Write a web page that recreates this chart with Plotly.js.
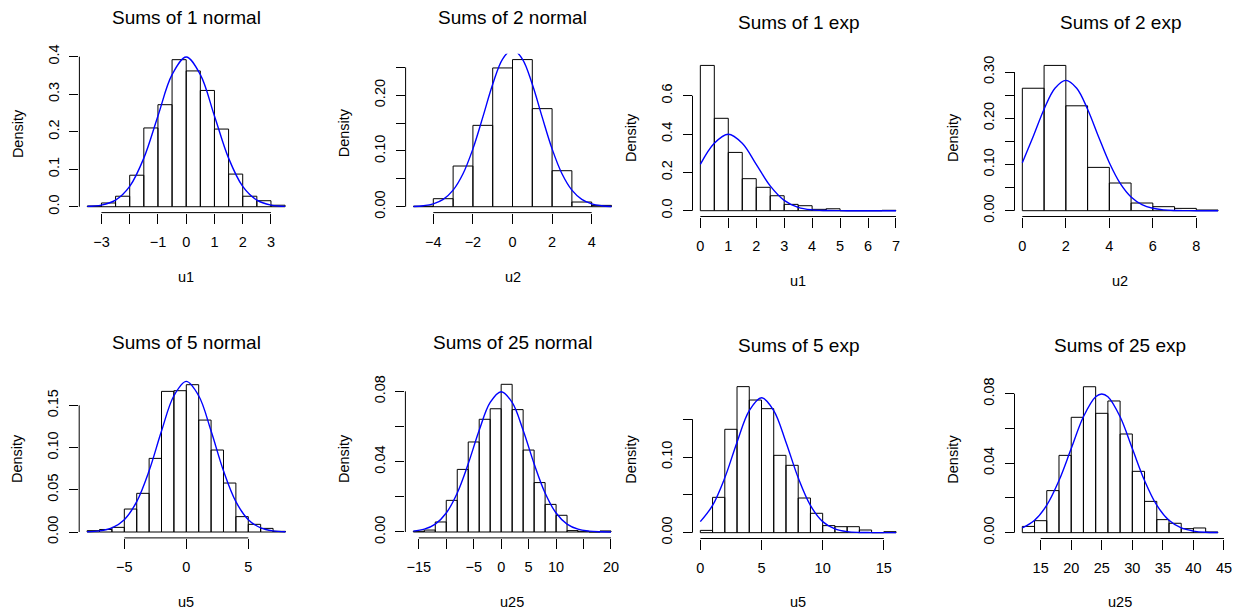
<!DOCTYPE html>
<html><head><meta charset="utf-8">
<script src="https://cdn.plot.ly/plotly-3.0.1.min.js"></script>
<style>html,body{margin:0;padding:0;background:#fff}#chart{width:1238px;height:612px}</style>
</head><body><div id="chart"></div>
<script>
// ---------- DATA ----------
const titles = ["Sums of 1 normal","Sums of 2 normal","Sums of 1 exp","Sums of 2 exp",
                "Sums of 5 normal","Sums of 25 normal","Sums of 5 exp","Sums of 25 exp"];
const xLabels = ["u1","u2","u1","u2","u5","u25","u5","u25"];
const yLabel = "Density";

// Sums of 1 normal
const n1_edges   = [-3.5,-3,-2.5,-2,-1.5,-1,-0.5,0,0.5,1,1.5,2,2.5,3,3.5];
const n1_density = [0.002,0.010,0.028,0.084,0.210,0.272,0.392,0.362,0.310,0.207,0.087,0.028,0.016,0.004];
const n1_curveX  = [-3.5,-3,-2.5,-2,-1.5,-1,-0.5,0,0.5,1,1.5,2,2.5,3,3.5];
const n1_curveY  = [0.0009,0.0044,0.0175,0.054,0.1295,0.242,0.352,0.399,0.352,0.242,0.1295,0.054,0.0175,0.0044,0.0009];
const n1_xticks  = [-3,-2,-1,0,1,2,3];
const n1_xtext   = ["\u22123","","\u22121","0","1","2","3"];
const n1_yticks  = [0,0.1,0.2,0.3,0.4];
const n1_ytext   = ["0.0","0.1","0.2","0.3","0.4"];

// Sums of 2 normal
const n2_edges   = [-5,-4,-3,-2,-1,0,1,2,3,4,5];
const n2_density = [0.001,0.0144,0.073,0.146,0.249,0.264,0.176,0.0646,0.0084,0.0024];
const n2_curveX  = [-5,-4.5,-4,-3.5,-3,-2.5,-2,-1.5,-1,-0.5,0,0.5,1,1.5,2,2.5,3,3.5,4,4.5,5];
const n2_curveY  = [0.0005,0.0018,0.0052,0.0132,0.0297,0.0591,0.1038,0.1607,0.2197,0.265,0.2821,0.265,0.2197,0.1607,0.1038,0.0591,0.0297,0.0132,0.0052,0.0018,0.0005];
const n2_xticks  = [-4,-2,0,2,4];
const n2_xtext   = ["\u22124","\u22122","0","2","4"];
const n2_yticks  = [0,0.05,0.10,0.15,0.20,0.25];
const n2_ytext   = ["0.00","","0.10","","0.20",""];

// Sums of 1 exp
const e1_edges   = [0,0.5,1,1.5,2,2.5,3,3.5,4,4.5,5,5.5,6,6.5,7];
const e1_density = [0.758,0.482,0.304,0.167,0.122,0.078,0.033,0.026,0.007,0.010,0,0,0,0.002];
const e1_curveX  = [0,0.5,1,1.5,2,2.5,3,3.5,4,4.5,5,5.5,6,6.5,7];
const e1_curveY  = [0.242,0.352,0.399,0.352,0.242,0.1295,0.054,0.0175,0.0044,0.0009,0.0001,0,0,0,0];
const e1_xticks  = [0,1,2,3,4,5,6,7];
const e1_xtext   = ["0","1","2","3","4","5","6","7"];
const e1_yticks  = [0,0.2,0.4,0.6];
const e1_ytext   = ["0.0","0.2","0.4","0.6"];

// Sums of 2 exp
const e2_edges   = [0,1,2,3,4,5,6,7,8,9];
const e2_density = [0.265,0.3144,0.227,0.0937,0.0599,0.0166,0.0087,0.005,0.0015];
const e2_curveX  = [0,0.5,1,1.5,2,2.5,3,3.5,4,4.5,5,5.5,6,6.5,7,7.5,8,9];
const e2_curveY  = [0.1038,0.1607,0.2197,0.265,0.2821,0.265,0.2197,0.1607,0.1038,0.0591,0.0297,0.0132,0.0052,0.0018,0.0005,0.0001,0,0];
const e2_xticks  = [0,2,4,6,8];
const e2_xtext   = ["0","2","4","6","8"];
const e2_yticks  = [0,0.05,0.10,0.15,0.20,0.25,0.30];
const e2_ytext   = ["0.00","","0.10","","0.20","","0.30"];

// Sums of 5 normal
const n5_edges   = [-8,-7,-6,-5,-4,-3,-2,-1,0,1,2,3,4,5,6,7,8];
const n5_density = [0.0016,0.003,0.0055,0.0272,0.0458,0.0872,0.1666,0.1674,0.1745,0.1326,0.0971,0.058,0.0182,0.0091,0.0043,0.0008];
const n5_curveX  = [-8,-7,-6,-5,-4,-3,-2,-1,0,1,2,3,4,5,6,7,8];
const n5_curveY  = [0.0003,0.0013,0.0049,0.0146,0.036,0.0725,0.1196,0.1614,0.1784,0.1614,0.1196,0.0725,0.036,0.0146,0.0049,0.0013,0.0003];
const n5_xticks  = [-5,0,5];
const n5_xtext   = ["\u22125","0","5"];
const n5_yticks  = [0,0.05,0.10,0.15];
const n5_ytext   = ["0.00","0.05","0.10","0.15"];

// Sums of 25 normal
const n25_edges   = [-16,-14,-12,-10,-8,-6,-4,-2,0,2,4,6,8,10,12,14,16,18,20];
const n25_density = [0.0004,0.0011,0.0057,0.018,0.0356,0.0512,0.0641,0.0701,0.084,0.0696,0.0466,0.0281,0.0157,0.0095,0.0008,0.0004,0,0.0006];
const n25_curveX  = [-16,-14,-12,-10,-8,-6,-4,-2,0,2,4,6,8,10,12,14,16,18,20];
const n25_curveY  = [0.0005,0.0016,0.0045,0.0108,0.0222,0.0388,0.0579,0.0737,0.0798,0.0737,0.0579,0.0388,0.0222,0.0108,0.0045,0.0016,0.0005,0.0001,0];
const n25_xticks  = [-15,-10,-5,0,5,10,15,20];
const n25_xtext   = ["\u221215","","\u22125","0","5","10","","20"];
const n25_yticks  = [0,0.02,0.04,0.06,0.08];
const n25_ytext   = ["0.00","","0.04","","0.08"];

// Sums of 5 exp
const e5_edges   = [0,1,2,3,4,5,6,7,8,9,10,11,12,13,14,15,16];
const e5_density = [0.003,0.0467,0.1366,0.193,0.1753,0.1639,0.1022,0.089,0.0458,0.0256,0.0093,0.0079,0.0079,0.0035,0,0.0013];
const e5_curveX  = [0,1,2,3,4,5,6,7,8,9,10,11,12,13,14,15,16];
const e5_curveY  = [0.0146,0.036,0.0725,0.1196,0.1614,0.1784,0.1614,0.1196,0.0725,0.036,0.0146,0.0049,0.0013,0.0003,0.0001,0,0];
const e5_xticks  = [0,5,10,15];
const e5_xtext   = ["0","5","10","15"];
const e5_yticks  = [0,0.05,0.10,0.15];
const e5_ytext   = ["0.00","","0.10",""];

// Sums of 25 exp
const e25_edges   = [12,14,16,18,20,22,24,26,28,30,32,34,36,38,40,42,44];
const e25_density = [0.0036,0.0069,0.0242,0.0445,0.0664,0.084,0.0687,0.0758,0.0568,0.0353,0.018,0.0075,0.0054,0.0023,0.0027,0.0004];
const e25_curveX  = [12,14,16,18,20,22,24,25,26,28,30,32,34,36,38,40,42,44];
const e25_curveY  = [0.0027,0.0071,0.0158,0.03,0.0484,0.0667,0.0782,0.0798,0.0782,0.0667,0.0484,0.03,0.0158,0.0071,0.0027,0.0009,0.0002,0.0001];
const e25_xticks  = [15,20,25,30,35,40,45];
const e25_xtext   = ["15","20","25","30","35","40","45"];
const e25_yticks  = [0,0.02,0.04,0.06,0.08];
const e25_ytext   = ["0.00","","0.04","","0.08"];

const panels = [
  {edges:n1_edges, dens:n1_density, cx:n1_curveX, cy:n1_curveY, xt:n1_xticks, xl:n1_xtext, yt:n1_yticks, yl:n1_ytext},
  {edges:n2_edges, dens:n2_density, cx:n2_curveX, cy:n2_curveY, xt:n2_xticks, xl:n2_xtext, yt:n2_yticks, yl:n2_ytext},
  {edges:e1_edges, dens:e1_density, cx:e1_curveX, cy:e1_curveY, xt:e1_xticks, xl:e1_xtext, yt:e1_yticks, yl:e1_ytext},
  {edges:e2_edges, dens:e2_density, cx:e2_curveX, cy:e2_curveY, xt:e2_xticks, xl:e2_xtext, yt:e2_yticks, yl:e2_ytext},
  {edges:n5_edges, dens:n5_density, cx:n5_curveX, cy:n5_curveY, xt:n5_xticks, xl:n5_xtext, yt:n5_yticks, yl:n5_ytext},
  {edges:n25_edges, dens:n25_density, cx:n25_curveX, cy:n25_curveY, xt:n25_xticks, xl:n25_xtext, yt:n25_yticks, yl:n25_ytext},
  {edges:e5_edges, dens:e5_density, cx:e5_curveX, cy:e5_curveY, xt:e5_xticks, xl:e5_xtext, yt:e5_yticks, yl:e5_ytext},
  {edges:e25_edges, dens:e25_density, cx:e25_curveX, cy:e25_curveY, xt:e25_xticks, xl:e25_xtext, yt:e25_yticks, yl:e25_ytext}
];

// ---------- LAYOUT (pixel boxes of plot regions: left, right, top, bottom) ----------
const W = 1238, H = 612;
const boxes = [
  [79.4, 293.0, 53.8, 212.6], [405.6, 619.4, 53.7, 212.6], [692.5, 903.8, 59.6, 216.5], [1014.5, 1225.9, 59.6, 216.5],
  [79.2, 293.4, 378.8, 537.9], [405.4, 618.9, 378.4, 537.9], [692.5, 903.9, 380.8, 538.5], [1014.5, 1225.7, 380.9, 538.5]
];
const titleY  = [17, 17, 23, 23, 342.4, 342.4, 345.2, 345.2];
const xTitleY = [276.8, 276.8, 281, 281, 602, 602, 602, 602];
const FONT = '"Liberation Sans", Arial, Helvetica, sans-serif';

const traces = [];
const layout = {
  width: W, height: H, margin: {l:0, r:0, t:0, b:0},
  paper_bgcolor: '#fff', plot_bgcolor: 'rgba(0,0,0,0)',
  showlegend: false, font: {family: FONT, size: 14, color: '#000'},
  shapes: [], annotations: []
};

panels.forEach((p, i) => {
  const k = i + 1;
  const xa = k === 1 ? 'x' : 'x' + k;
  const ya = k === 1 ? 'y' : 'y' + k;
  const centers = [], widths = [];
  for (let j = 0; j < p.dens.length; j++) {
    centers.push((p.edges[j] + p.edges[j+1]) / 2);
    widths.push(p.edges[j+1] - p.edges[j]);
  }
  traces.push({type: 'bar', x: centers, y: p.dens, width: widths, xaxis: xa, yaxis: ya,
    marker: {color: 'rgba(255,255,255,0)', line: {color: '#000', width: 1}}, hoverinfo: 'x+y'});
  traces.push({type: 'scatter', mode: 'lines', x: p.cx, y: p.cy, xaxis: xa, yaxis: ya,
    line: {color: '#0000ff', width: 1.4, shape: 'spline', smoothing: 1}});

  const lo = p.edges[0], hi = p.edges[p.edges.length - 1], span = hi - lo;
  const ymax = Math.max.apply(null, p.dens);
  const b = boxes[i];
  const xKey = k === 1 ? 'xaxis' : 'xaxis' + k;
  const yKey = k === 1 ? 'yaxis' : 'yaxis' + k;
  layout[xKey] = {
    domain: [b[0] / W, b[1] / W], anchor: ya, range: [lo - 0.04 * span, hi + 0.04 * span],
    showgrid: false, zeroline: false, showline: false, fixedrange: true,
    tickmode: 'array', tickvals: p.xt, ticktext: p.xl,
    ticks: 'outside', ticklen: 10, tickwidth: 1, tickcolor: '#000',
    ticklabelstandoff: 6, tickfont: {family: FONT, size: 14.5, color: '#000'}
  };
  layout[yKey] = {
    domain: [1 - b[3] / H, 1 - b[2] / H], anchor: xa, range: [-0.04 * ymax, 1.04 * ymax],
    showgrid: false, zeroline: false, showline: false, fixedrange: true,
    tickmode: 'array', tickvals: p.yt, ticktext: p.yl, tickangle: -90,
    ticks: 'outside', ticklen: 9, tickwidth: 1, tickcolor: '#000',
    ticklabelstandoff: 5, tickfont: {family: FONT, size: 14.5, color: '#000'}
  };
  // R-style axis lines spanning first to last tick
  layout.shapes.push({type: 'line', xref: xa, yref: ya + ' domain', x0: p.xt[0], x1: p.xt[p.xt.length - 1], y0: 0, y1: 0,
    line: {color: '#000', width: 1}});
  layout.shapes.push({type: 'line', xref: xa + ' domain', yref: ya, x0: 0, x1: 0, y0: p.yt[0], y1: p.yt[p.yt.length - 1],
    line: {color: '#000', width: 1}});
  // Titles
  const cx = (b[0] + b[1]) / 2 / W;
  layout.annotations.push({text: titles[i], xref: 'paper', yref: 'paper', x: cx, y: 1 - titleY[i] / H,
    xanchor: 'center', yanchor: 'middle', showarrow: false, font: {family: FONT, size: 19, color: '#000'}});
  layout.annotations.push({text: xLabels[i], xref: 'paper', yref: 'paper', x: cx, y: 1 - xTitleY[i] / H,
    xanchor: 'center', yanchor: 'middle', showarrow: false, font: {family: FONT, size: 14.5, color: '#000'}});
  layout.annotations.push({text: yLabel, xref: 'paper', yref: 'paper', x: (b[0] - 61.5) / W, y: 1 - (b[2] + b[3]) / 2 / H,
    xanchor: 'center', yanchor: 'middle', textangle: -90, showarrow: false, font: {family: FONT, size: 14.5, color: '#000'}});
});

Plotly.newPlot('chart', traces, layout, {displayModeBar: false, staticPlot: true});
</script>
</body></html>
